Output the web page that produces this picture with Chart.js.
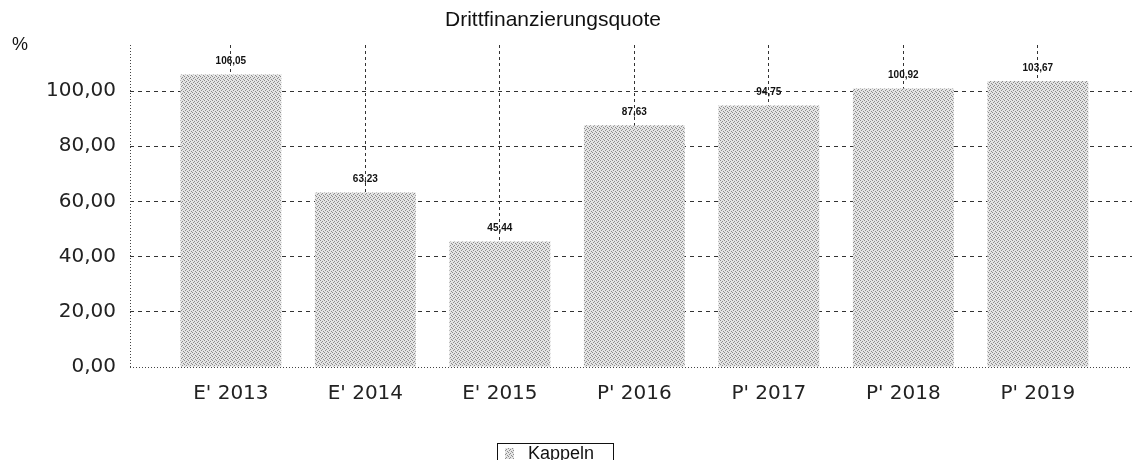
<!DOCTYPE html>
<html>
<head>
<meta charset="utf-8">
<script src="https://cdn.jsdelivr.net/npm/chart.js@4"></script>
<style>
  html, body { margin: 0; padding: 0; background: #fff; }
</style>
</head>
<body>
<canvas id="chart" width="1132" height="460"></canvas>
<script>
// data
const categories = ["E' 2013", "E' 2014", "E' 2015", "P' 2016", "P' 2017", "P' 2018", "P' 2019"];
const values = [106.05, 63.23, 45.44, 87.63, 94.75, 100.92, 103.67];
const seriesName = "Kappeln";
const yTicks = [0, 20, 40, 60, 80, 100];
const chartTitle = "Drittfinanzierungsquote";
const unitLabel = "%";

const fmt = v => v.toFixed(2).replace(".", ",");

// stippled grey fill like the scanned bars
function makePattern() {
  const c = document.createElement("canvas");
  c.width = 4; c.height = 4;
  const g = c.getContext("2d");
  g.fillStyle = "#e4e4e4";
  g.fillRect(0, 0, 4, 4);
  g.fillStyle = "#8c8c8c";
  [[0, 0], [2, 1], [1, 2], [3, 3]].forEach(p => g.fillRect(p[0], p[1], 1, 1));
  return g.createPattern(c, "repeat");
}
const barFill = makePattern();

const decor = {
  id: "decor",
  beforeDatasetsDraw(chart) {
    const { ctx, chartArea: a } = chart;
    ctx.save();
    ctx.strokeStyle = "#444";
    ctx.lineWidth = 1;
    ctx.setLineDash([1, 2]);
    ctx.beginPath();
    ctx.moveTo(a.left + 0.5, a.top);
    ctx.lineTo(a.left + 0.5, a.bottom);
    ctx.moveTo(a.left, a.bottom + 0.5);
    ctx.lineTo(a.right, a.bottom + 0.5);
    ctx.stroke();
    ctx.restore();
  },
  afterDatasetsDraw(chart) {
    const { ctx } = chart;
    const meta = chart.getDatasetMeta(0);
    ctx.save();
    ctx.font = "bold 10px 'Liberation Sans', Arial, sans-serif";
    ctx.fillStyle = "#111";
    ctx.textAlign = "center";
    ctx.textBaseline = "middle";
    meta.data.forEach((bar, i) => {
      ctx.fillText(fmt(values[i]), bar.x, bar.y - 13);
    });
    ctx.restore();
  },
  afterDraw(chart) {
    const { ctx } = chart;
    ctx.save();
    ctx.fillStyle = "#111";
    ctx.textBaseline = "middle";
    ctx.textAlign = "center";
    ctx.font = "21px 'Liberation Sans', Arial, sans-serif";
    ctx.fillText(chartTitle, 553, 20);
    ctx.font = "18px 'Liberation Sans', Arial, sans-serif";
    ctx.fillText(unitLabel, 20, 45);

    // legend box
    ctx.strokeStyle = "#111";
    ctx.lineWidth = 1;
    ctx.strokeRect(497.5, 443.5, 116, 30);
    ctx.fillStyle = barFill;
    ctx.fillRect(505, 448, 9, 11);
    ctx.fillStyle = "#111";
    ctx.textAlign = "left";
    ctx.font = "18px 'Liberation Sans', Arial, sans-serif";
    ctx.fillText(chart.data.datasets[0].label, 528, 454);
    ctx.restore();
  }
};

new Chart(document.getElementById("chart"), {
  type: "bar",
  data: {
    datasets: [{
      label: seriesName,
      data: values.map((v, i) => ({ x: i, y: v })),
      backgroundColor: barFill,
      borderWidth: 0,
      barPercentage: 0.75,
      categoryPercentage: 1
    }]
  },
  options: {
    responsive: false,
    devicePixelRatio: 1,
    animation: false,
    layout: { padding: { top: 45, right: 0, left: 0, bottom: 0 } },
    plugins: {
      legend: { display: false },
      title: { display: false },
      tooltip: { enabled: false }
    },
    scales: {
      x: {
        type: "linear",
        min: -0.75,
        max: 6.7,
        offset: false,
        afterBuildTicks: s => { s.ticks = categories.map((c, i) => ({ value: i })); },
        afterFit: s => { s.height = 93; },
        grid: { offset: false, drawTicks: false, color: "#333", lineWidth: 1 },
        border: { display: false, dash: [3, 3] },
        ticks: {
          autoSkip: false,
          maxRotation: 0,
          padding: 15,
          color: "#222",
          font: { family: "'DejaVu Sans', sans-serif", size: 20 },
          callback: v => categories[v]
        }
      },
      y: {
        min: 0,
        max: 116.7,
        afterBuildTicks: s => { s.ticks = yTicks.map(v => ({ value: v })); },
        afterFit: s => { s.width = 130; },
        grid: {
          drawTicks: false,
          lineWidth: 1,
          color: c => (c.tick && c.tick.value === 0) ? "rgba(0,0,0,0)" : "#333"
        },
        border: { display: false, dash: [4, 4] },
        ticks: {
          padding: 14,
          color: "#222",
          font: { family: "'DejaVu Sans', sans-serif", size: 20 },
          callback: v => fmt(v)
        }
      }
    }
  },
  plugins: [decor]
});
</script>
</body>
</html>
